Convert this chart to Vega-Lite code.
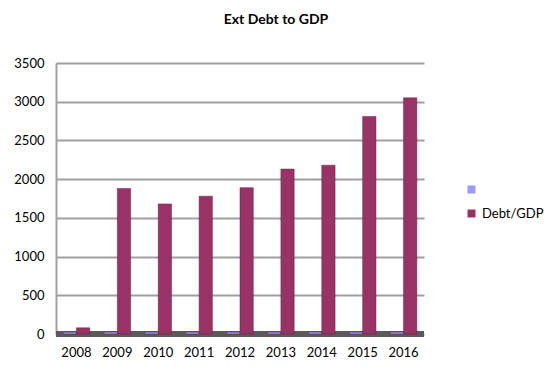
{
  "$schema": "https://vega.github.io/schema/vega-lite/v6.json",
  "width": 368,
  "height": 271,
  "autosize": {"type": "none"},
  "padding": {"left": 56, "top": 63, "right": 130, "bottom": 43},
  "background": "white",
  "config": {
    "font": "Lato",
    "view": {"stroke": null},
    "axis": {"labelFont": "Lato", "labelFontSize": 13, "labelColor": "#000000"}
  },
  "title": {
    "text": "Ext Debt to GDP",
    "font": "Lato",
    "fontSize": 14,
    "fontWeight": "bold",
    "color": "#000000",
    "anchor": "middle",
    "offset": 30,
    "dx": 36
  },
  "data": {
    "values": [
      {"year": "2008", "series": "", "value": 25},
      {"year": "2008", "series": "Debt/GDP", "value": 80},
      {"year": "2009", "series": "", "value": 25},
      {"year": "2009", "series": "Debt/GDP", "value": 1880},
      {"year": "2010", "series": "", "value": 25},
      {"year": "2010", "series": "Debt/GDP", "value": 1680},
      {"year": "2011", "series": "", "value": 25},
      {"year": "2011", "series": "Debt/GDP", "value": 1780},
      {"year": "2012", "series": "", "value": 25},
      {"year": "2012", "series": "Debt/GDP", "value": 1890},
      {"year": "2013", "series": "", "value": 25},
      {"year": "2013", "series": "Debt/GDP", "value": 2130},
      {"year": "2014", "series": "", "value": 25},
      {"year": "2014", "series": "Debt/GDP", "value": 2180},
      {"year": "2015", "series": "", "value": 25},
      {"year": "2015", "series": "Debt/GDP", "value": 2810},
      {"year": "2016", "series": "", "value": 25},
      {"year": "2016", "series": "Debt/GDP", "value": 3050}
    ]
  },
  "layer": [
    {
      "mark": {"type": "rule", "color": "#5a5a5a", "strokeWidth": 5},
      "encoding": {
        "y": {
          "datum": 0,
          "type": "quantitative",
          "scale": {"domain": [0, 3500], "nice": false},
          "axis": {
            "title": null,
            "values": [0, 500, 1000, 1500, 2000, 2500, 3000, 3500],
            "format": "d",
            "labelOverlap": false,
            "grid": true,
            "gridColor": "#a0a0a0",
            "gridWidth": 2,
            "domainColor": "#a0a0a0",
            "domainWidth": 2,
            "ticks": false,
            "labelPadding": 12
          }
        }
      }
    },
    {
      "mark": {"type": "bar", "stroke": "#6b1f45", "strokeWidth": 0.5},
      "encoding": {
        "x": {
          "field": "year",
          "type": "nominal",
          "scale": {"paddingInner": 0.35, "paddingOuter": 0.175},
          "axis": {"title": null, "labelAngle": 0, "ticks": false, "domain": false, "labelPadding": 12}
        },
        "xOffset": {"field": "series", "type": "nominal", "sort": ["", "Debt/GDP"]},
        "y": {
          "field": "value",
          "type": "quantitative",
          "scale": {"domain": [0, 3500], "nice": false},
          "axis": {
            "title": null,
            "values": [0, 500, 1000, 1500, 2000, 2500, 3000, 3500],
            "format": "d",
            "labelOverlap": false,
            "grid": true,
            "gridColor": "#a0a0a0",
            "gridWidth": 2,
            "domainColor": "#a0a0a0",
            "domainWidth": 2,
            "ticks": false,
            "labelPadding": 12
          }
        },
        "color": {
          "field": "series",
          "type": "nominal",
          "scale": {"domain": ["", "Debt/GDP"], "range": ["#9999ff", "#993366"]},
          "legend": {
            "title": null,
            "orient": "none",
            "legendX": 409,
            "legendY": 120,
            "symbolType": "square",
            "symbolSize": 64,
            "symbolStrokeWidth": 0,
            "labelFont": "Lato",
            "labelFontSize": 13,
            "labelColor": "#000000",
            "rowPadding": 10
          }
        }
      }
    }
  ]
}
